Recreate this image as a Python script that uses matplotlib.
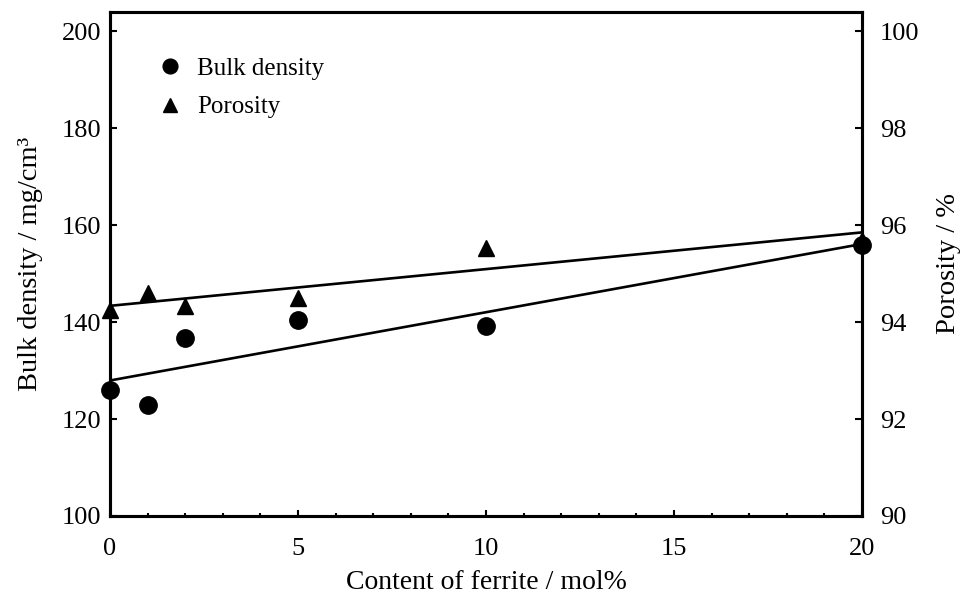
import numpy as np
import matplotlib
matplotlib.use("Agg")
import matplotlib.pyplot as plt
from matplotlib.ticker import MultipleLocator

plt.rcParams['font.family'] = ['Liberation Serif', 'DejaVu Serif']

# data
ferrite = [0, 1, 2, 5, 10, 20]
bulk_density = [125.9, 123.0, 136.8, 140.5, 139.2, 155.9]
porosity = [94.25, 94.6, 94.33, 94.5, 95.52, 95.7]

x_ticks = [0, 5, 10, 15, 20]
left_ticks = [100, 120, 140, 160, 180, 200]
right_ticks = [90, 92, 94, 96, 98, 100]

fig = plt.figure(figsize=(9.62, 5.98), dpi=100)
ax = fig.add_axes([110 / 962, 82 / 598, 752 / 962, 504 / 598])
ax2 = ax.twinx()

# bulk density drawn above porosity
ax.set_zorder(ax2.get_zorder() + 1)
ax.patch.set_visible(False)

# linear fits
xs = np.array([0, 20])
pb = np.polyfit(ferrite, bulk_density, 1)
pp = np.polyfit(ferrite, porosity, 1)
ax.plot(xs, np.polyval(pb, xs), color='black', lw=1.9, zorder=2)
ax2.plot(xs, np.polyval(pp, xs), color='black', lw=1.9, zorder=2)

ax.plot(ferrite, bulk_density, 'o', color='black', ms=12.5, clip_on=False,
        zorder=3, label='Bulk density')
ax2.plot(ferrite, porosity, '^', color='black', ms=12, clip_on=False,
         zorder=3, label='Porosity')

ax.set_xlim(0, 20)
ax.set_ylim(100, 204)
ax2.set_ylim(90, 100.4)
ax.set_xticks(x_ticks)
ax.xaxis.set_minor_locator(MultipleLocator(1))
ax.set_yticks(left_ticks)
ax2.set_yticks(right_ticks)

for a in (ax, ax2):
    for s in a.spines.values():
        s.set_linewidth(2.2)
    a.tick_params(direction='in', labelsize=19, width=1.5, length=5)

ax.tick_params(axis='x', which='major', length=4, pad=16)
ax.tick_params(axis='x', which='minor', direction='in', length=2.5, width=1.5)
ax.tick_params(axis='y', pad=6)
ax2.tick_params(axis='y', pad=13)

ax.set_xlabel('Content of ferrite / mol%', fontsize=20, labelpad=7)
ax.set_ylabel('Bulk density / mg/cm³', fontsize=20.5, labelpad=14)
ax2.set_ylabel('Porosity / %', fontsize=20.5, labelpad=12)

h1, l1 = ax.get_legend_handles_labels()
h2, l2 = ax2.get_legend_handles_labels()
ax.legend(h1 + h2, l1 + l2, loc='upper left', bbox_to_anchor=(0.033, 0.955),
          frameon=False, fontsize=18, markerscale=0.85, handlelength=1.0,
          handletextpad=0.6, labelspacing=0.65)

fig.savefig('out.png', dpi=100)
